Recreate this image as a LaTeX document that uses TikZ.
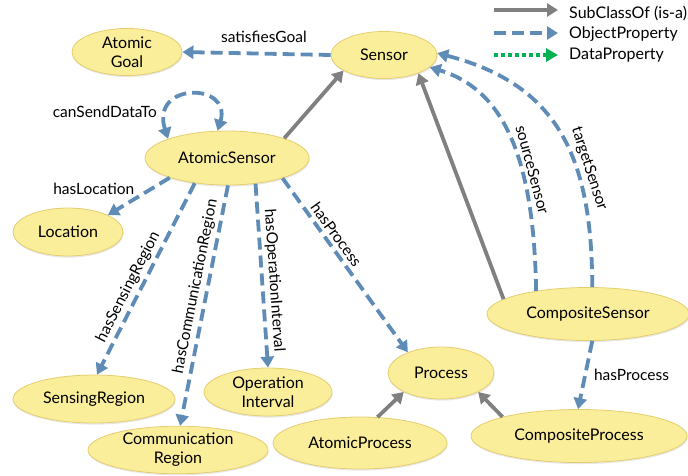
\documentclass[tikz,border=0pt]{standalone}
\usepackage{fontspec}
\setmainfont{Lato}
\usetikzlibrary{arrows.meta,shapes.geometric,shadows}
\definecolor{fillY}{RGB}{251,238,155}
\definecolor{edgeY}{RGB}{228,205,110}
\definecolor{objBlue}{RGB}{94,140,182}
\definecolor{subGray}{RGB}{128,128,128}
\definecolor{dataGreen}{RGB}{0,178,80}
\tikzset{
  cls/.style={ellipse, draw=edgeY, line width=0.8pt, fill=fillY, align=center,
    font=\fontsize{16}{19}\selectfont, inner sep=0pt,
    drop shadow={opacity=0.18, shadow xshift=0.6pt, shadow yshift=-1.6pt}},
  objp/.style={draw=objBlue, line width=3.8pt, dash pattern=on 12pt off 6pt,
    -{Triangle[width=13pt,length=11pt,fill=objBlue]}},
  subc/.style={draw=subGray, line width=3.8pt,
    -{Triangle[width=13pt,length=11pt,fill=subGray]}},
  datap/.style={draw=dataGreen, line width=3.8pt, dash pattern=on 4pt off 3pt,
    -{Triangle[width=13pt,length=12pt,fill=dataGreen]}},
  lbl/.style={font=\fontsize{15.5}{17}\selectfont, text=black, inner sep=1pt},
  lgd/.style={font=\fontsize{16}{17}\selectfont, anchor=west, inner sep=0pt}
}
\begin{document}
\begin{tikzpicture}[x=1pt,y=-1pt]
\useasboundingbox (0,0) rectangle (688,475);
\begin{scope}
\clip (0,0) rectangle (688,475);
% nodes
\node[cls, minimum width=110pt, minimum height=47pt] (ag) at (127,52) {Atomic\\Goal};
\node[cls, minimum width=106pt, minimum height=47pt] (s) at (384,55) {Sensor};
\node[cls, minimum width=164pt, minimum height=54pt] (as) at (227,158) {AtomicSensor};
\node[cls, minimum width=110pt, minimum height=48pt] (loc) at (68,232) {Location};
\node[cls, minimum width=162pt, minimum height=48pt] (sr) at (94,399) {SensingRegion};
\node[cls, minimum width=180pt, minimum height=47pt] (cr) at (178,450) {Communication\\Region};
\node[cls, minimum width=128pt, minimum height=48pt] (oi) at (268,392) {Operation\\Interval};
\node[cls, minimum width=174pt, minimum height=52pt] (ap) at (360,443) {AtomicProcess};
\node[cls, minimum width=106pt, minimum height=52pt] (p) at (441,373) {Process};
\node[cls, minimum width=202pt, minimum height=53pt] (cs) at (588,314) {CompositeSensor};
\node[cls, minimum width=216pt, minimum height=53pt] (cp) at (579,436) {CompositeProcess};
% edges
\draw[objp] (s.west) -- node[lbl, above=8pt, pos=0.45] {satisfiesGoal} (ag.east);
\draw[subc] (as.19) -- (s.201);
\draw[objp, {Triangle[width=13pt,length=11pt,fill=objBlue]}-{Triangle[width=13pt,length=11pt,fill=objBlue]}]
  (as.162) .. controls (150,82) and (232,82) .. node[lbl, pos=0.2, left=8pt] {canSendDataTo} (as.109);
\draw[objp] (as.199) -- node[lbl, left=14pt, pos=0.3] {hasLocation} (loc.23);
\draw[objp] (as.218) -- node[lbl, sloped, above=2pt, pos=0.57] {hasSensingRegion} (sr.83);
\draw[objp] (as.-88) -- node[lbl, sloped, above=2pt, pos=0.43] {hasCommunicationRegion} (cr.85);
\draw[objp] (as.-42) -- node[lbl, sloped, above=2pt, pos=0.53] {hasOperationInterval} (oi.90);
\draw[objp] (as.-20) -- node[lbl, sloped, above=2pt, pos=0.36] {hasProcess} (p.148);
\draw[subc] (cs.170) -- (s.-28);
\draw[objp] (cs.156) .. controls (534,160) and (505,90) .. node[lbl, sloped, above=2pt, pos=0.36] {sourceSensor} (s.-15);
\draw[objp] (cs.81) .. controls (592,160) and (560,85) .. node[lbl, sloped, above=2pt, pos=0.35] {targetSensor} (s.2);
\draw[objp] (cs.-81) -- node[lbl, right=6pt, pos=0.5] {hasProcess} (cp.92);
\draw[subc] (ap.56) -- (p.207);
\draw[subc] (cp.166) -- (p.-27);
% legend
\coordinate (l1a) at (494,10); \coordinate (l1b) at (558,10);
\coordinate (l2a) at (494,33); \coordinate (l2b) at (558,33);
\coordinate (l3a) at (494,55); \coordinate (l3b) at (558,55);
\draw[subc] (l1a) -- (l1b);
\draw[objp] (l2a) -- (l2b);
\draw[datap] (l3a) -- (l3b);
\node[lgd] (t1) at (569,13) {SubClassOf (is-a)};
\node[lgd] (t2) at (569,34) {ObjectProperty};
\node[lgd] (t3) at (569,55) {DataProperty};
\end{scope}
\end{tikzpicture}
\end{document}
